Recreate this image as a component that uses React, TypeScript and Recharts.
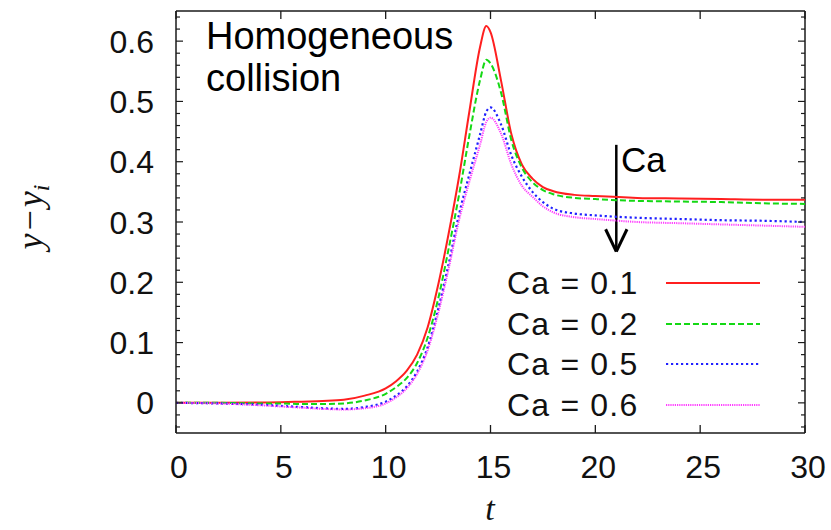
import { Legend, Line, LineChart, ReferenceLine, XAxis, YAxis } from "recharts";

// time samples (t) and y - y_i for each capillary number
const tValues = [0, 2, 4, 5, 6, 7, 8, 9, 10, 10.5, 11, 11.5, 12, 12.5, 13, 13.5, 14, 14.5, 14.8, 15, 15.5, 16, 16.5, 17, 17.5, 18, 19, 20, 22, 24, 26, 28, 30];
const ca01 = [0, 0, 0.0005, 0.001, 0.002, 0.003, 0.005, 0.012, 0.024, 0.036, 0.053, 0.08, 0.125, 0.195, 0.28, 0.375, 0.485, 0.59, 0.625, 0.615, 0.535, 0.445, 0.395, 0.372, 0.358, 0.351, 0.345, 0.343, 0.34, 0.339, 0.338, 0.337, 0.337];
const ca02 = [0, 0, -0.001, -0.001, -0.002, -0.002, -0.001, 0.004, 0.015, 0.026, 0.041, 0.066, 0.108, 0.172, 0.255, 0.345, 0.445, 0.535, 0.569, 0.563, 0.515, 0.435, 0.39, 0.366, 0.353, 0.346, 0.34, 0.338, 0.335, 0.334, 0.333, 0.331, 0.33];
const ca05 = [0, -0.001, -0.003, -0.005, -0.007, -0.009, -0.01, -0.007, 0.002, 0.012, 0.027, 0.052, 0.092, 0.155, 0.23, 0.313, 0.38, 0.445, 0.483, 0.49, 0.462, 0.41, 0.375, 0.35, 0.333, 0.322, 0.314, 0.311, 0.307, 0.305, 0.303, 0.302, 0.3];
const ca06 = [0, -0.001, -0.004, -0.006, -0.008, -0.01, -0.011, -0.009, -0.001, 0.009, 0.024, 0.048, 0.087, 0.148, 0.222, 0.303, 0.368, 0.428, 0.466, 0.473, 0.447, 0.395, 0.36, 0.342, 0.326, 0.316, 0.308, 0.305, 0.3, 0.298, 0.296, 0.294, 0.292];

const seriesNames = ["Ca = 0.1", "Ca = 0.2", "Ca = 0.5", "Ca = 0.6"];

const xTicks = [0, 5, 10, 15, 20, 25, 30];
const yTicks = [
  -0.04, -0.02, 0, 0.02, 0.04, 0.06, 0.08, 0.1, 0.12, 0.14, 0.16, 0.18, 0.2, 0.22, 0.24, 0.26, 0.28, 0.3,
  0.32, 0.34, 0.36, 0.38, 0.4, 0.42, 0.44, 0.46, 0.48, 0.5, 0.52, 0.54, 0.56, 0.58, 0.6, 0.62, 0.64,
];

const data = tValues.map((t, i) => ({ t, ca01: ca01[i], ca02: ca02[i], ca05: ca05[i], ca06: ca06[i] }));

const styles: Record<string, { stroke: string; dash?: string; width: number }> = {
  ca01: { stroke: "#ff1f1f", width: 2 },
  ca02: { stroke: "#14d814", dash: "6 3", width: 2 },
  ca05: { stroke: "#2020ff", dash: "2.2 2.8", width: 2.2 },
  ca06: { stroke: "#ff3cff", dash: "1.2 1", width: 2 },
};

const SANS = "'Liberation Sans', Arial, sans-serif";
const SERIF = "'Liberation Serif', 'Times New Roman', serif";
const PLOT_W = 629;
const PLOT_H = 422;
const INK = "#1a1a1a";

function XTick(props: any) {
  const { x, y, payload } = props;
  return (
    <g>
      <line x1={x} y1={y} x2={x} y2={y - 8} stroke={INK} strokeWidth={1.3} />
      <line x1={x} y1={y - PLOT_H} x2={x} y2={y - PLOT_H + 8} stroke={INK} strokeWidth={1.3} />
      <text x={x + 3} y={y + 45} textAnchor="middle" fontSize={32} fontFamily={SANS} fill="#111">
        {payload.value}
      </text>
    </g>
  );
}

function YTick(props: any) {
  const { x, y, payload } = props;
  const v = payload.value;
  const major = Math.abs(v * 10 - Math.round(v * 10)) < 1e-6;
  const len = major ? 7 : 4;
  return (
    <g>
      <line x1={x} y1={y} x2={x + len} y2={y} stroke={INK} strokeWidth={1.2} />
      <line x1={x + PLOT_W} y1={y} x2={x + PLOT_W - len} y2={y} stroke={INK} strokeWidth={1.2} />
      {major && (
        <text x={x - 22} y={y} dy="0.36em" textAnchor="end" fontSize={32} fontFamily={SANS} fill="#111">
          {Math.abs(v) < 1e-9 ? "0" : v.toFixed(1)}
        </text>
      )}
    </g>
  );
}

const XLabel = () => (
  <text x={490} y={520} textAnchor="middle" fontSize={34} fontStyle="italic" fontFamily={SERIF} fill="#111">
    t
  </text>
);

const YLabel = () => (
  <text
    transform="translate(42, 217) rotate(-90)"
    textAnchor="middle"
    fontSize={36}
    fontStyle="italic"
    fontFamily={SERIF}
    fill="#111"
  >
    <tspan>y</tspan>
    <tspan dx={3} fontStyle="normal">−</tspan>
    <tspan dx={3}>y</tspan>
    <tspan fontSize={24} dy={7}>i</tspan>
  </text>
);

const Title = () => (
  <g fontFamily={SANS} fontSize={38} fill="#000">
    <text x={206} y={49}>Homogeneous</text>
    <text x={206} y={91}>collision</text>
  </g>
);

const CaText = () => (
  <text x={621} y={172} fontFamily={SANS} fontSize={35} fill="#000">
    Ca
  </text>
);

function LegendBox(props: any) {
  const items = props.payload || [];
  return (
    <div style={{ fontFamily: SANS, color: "#111" }}>
      {items.map((item: any) => {
        const s = styles[item.dataKey];
        return (
          <div key={item.dataKey} style={{ display: "flex", alignItems: "center", height: 40.6 }}>
            <span style={{ width: 159, fontSize: 32, letterSpacing: 1.2, lineHeight: "40px", whiteSpace: "nowrap" }}>
              {item.value}
            </span>
            <svg width={96} height={10}>
              <line x1={0} y1={5} x2={94} y2={5} stroke={s.stroke} strokeWidth={s.width} strokeDasharray={s.dash} />
            </svg>
          </div>
        );
      })}
    </div>
  );
}

export default function App() {
  const keys = ["ca01", "ca02", "ca05", "ca06"];
  return (
    <div style={{ position: "absolute", left: 0, top: 0, width: 831, height: 530, background: "#fff" }}>
      <LineChart width={831} height={530} data={data} margin={{ top: 11, right: 26, bottom: 0, left: 0 }}>
        <XAxis
          dataKey="t"
          type="number"
          domain={[0, 30]}
          ticks={xTicks}
          interval={0}
          allowDataOverflow
          height={97}
          tickSize={0}
          tickMargin={0}
          tickLine={false}
          axisLine={{ stroke: INK, strokeWidth: 1.5 }}
          tick={(p: any) => <XTick {...p} />}
          label={{ content: XLabel }}
        />
        <YAxis
          type="number"
          domain={[-0.05, 0.65]}
          ticks={yTicks}
          interval={0}
          allowDataOverflow
          width={176}
          tickSize={0}
          tickMargin={0}
          tickLine={false}
          axisLine={{ stroke: INK, strokeWidth: 1.5 }}
          tick={(p: any) => <YTick {...p} />}
          label={{ content: YLabel }}
        />
        <ReferenceLine y={0.65} stroke={INK} strokeWidth={1.5} ifOverflow="visible" label={{ content: Title }} />
        <ReferenceLine x={30} stroke={INK} strokeWidth={1.5} ifOverflow="visible" />
        <ReferenceLine
          segment={[{ x: 21, y: 0.428 }, { x: 21, y: 0.252 }]}
          stroke="#000"
          strokeWidth={2.5}
          ifOverflow="visible"
          label={{ content: CaText }}
        />
        <ReferenceLine
          segment={[{ x: 20.49, y: 0.288 }, { x: 21, y: 0.251 }]}
          stroke="#000"
          strokeWidth={3}
          ifOverflow="visible"
        />
        <ReferenceLine
          segment={[{ x: 21.51, y: 0.288 }, { x: 21, y: 0.251 }]}
          stroke="#000"
          strokeWidth={3}
          ifOverflow="visible"
        />
        {keys.map((k, i) => (
          <Line
            key={k}
            dataKey={k}
            name={seriesNames[i]}
            type="monotone"
            stroke={styles[k].stroke}
            strokeWidth={styles[k].width}
            strokeDasharray={styles[k].dash}
            dot={false}
            activeDot={false}
            isAnimationActive={false}
          />
        ))}
        <Legend
          layout="vertical"
          align="center"
          verticalAlign="middle"
          content={(p: any) => <LegendBox {...p} />}
          wrapperStyle={{ left: 507, top: 263, width: 270, height: 165 }}
        />
      </LineChart>
    </div>
  );
}
